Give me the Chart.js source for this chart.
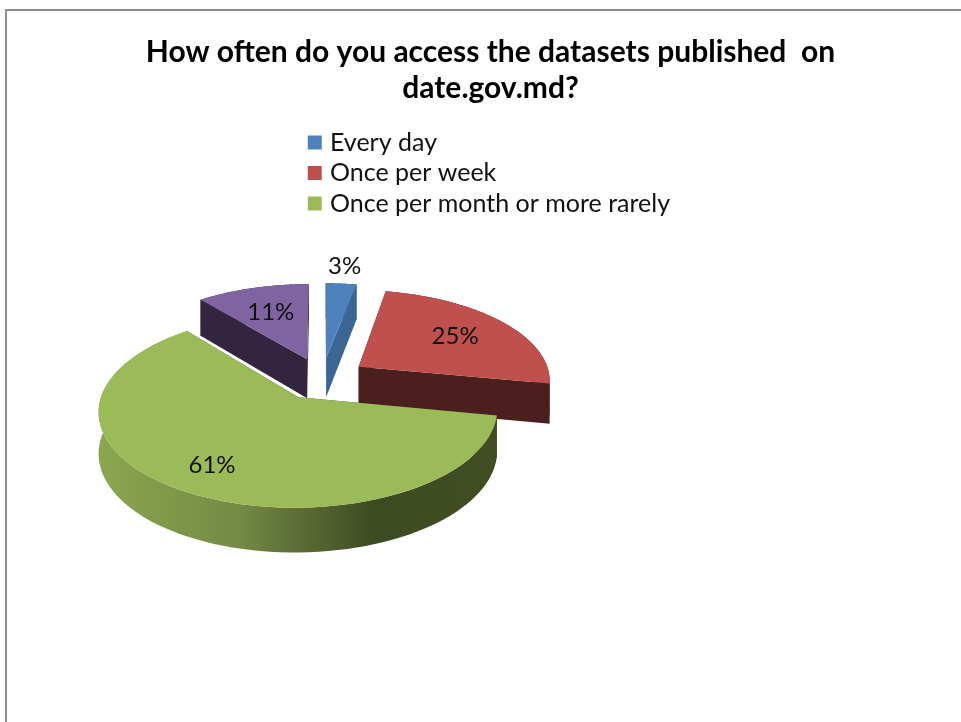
<!DOCTYPE html>
<html>
<head>
<meta charset="utf-8">
<title>Chart</title>
<script src="https://cdn.jsdelivr.net/npm/chart.js@4"></script>
<style>
  html, body { margin: 0; padding: 0; background: #fff; overflow: hidden; }
  #myChart { position: absolute; left: 0; top: 0; filter: blur(0.45px); }
  #frame { position: absolute; left: 5px; top: 9px; right: 0; bottom: 0; border-left: 2.5px solid #909090; border-top: 2.5px solid #8c8c8c; }
</style>
</head>
<body>
<div id="frame"></div>
<canvas id="myChart" width="961" height="722"></canvas>
<script>
const titleLines = ['How often do you access the datasets published  on', 'date.gov.md?'];
const categories = ['Every day', 'Once per week', 'Once per month or more rarely', 'Other'];
const shares = [3, 25, 61, 11];
const topColors = ['#4f81bd', '#c0504d', '#9bbb59', '#8064a2'];
const wallColors = ['#3b6694', '#4b1f1d', '#3f4b23', '#33243f'];
// how far along the slice each label sits, 1 = on the rim
const labelRadii = [1.27, 0.66, 0.76, 0.64];

// fake perspective for the tilted disc
const cx = 322, cy = 378.5, rx = 192, ry = 90, tilt = 0.135;
const explode = 0.235, depth = 40;

function project(u, v) {
    const w = 1 - tilt * v;
    return { x: cx + rx * u / w, y: cy + ry * v / w };
}
function drop(p, v) {
    return { x: p.x, y: p.y + depth * (1 + 0.1 * v) };
}
function tracePoly(ctx, pts) {
    ctx.beginPath();
    pts.forEach((p, i) => i ? ctx.lineTo(p.x, p.y) : ctx.moveTo(p.x, p.y));
    ctx.closePath();
}

// replaces the flat arcs, angles still come from the pie controller
const pie3d = {
    id: 'pie3d',
    afterLayout(chart) {
        // legend sits over the pie, not at the chart edge
        chart.legend.left += 286.5;
        chart.legend.right += 286.5;
    },
    beforeDatasetDraw(chart, args) {
        const ctx = chart.ctx;
        const arcs = args.meta.data;
        const slices = arcs.map((arc, i) => {
            const mid = (arc.startAngle + arc.endAngle) / 2;
            const ou = explode * Math.cos(mid), ov = explode * Math.sin(mid);
            const rim = [];
            for (let s = 0; s <= 90; s++) {
                const a = arc.startAngle + (arc.endAngle - arc.startAngle) * s / 90;
                rim.push({ u: ou + Math.cos(a), v: ov + Math.sin(a) });
            }
            return { i, mid, ou, ov, rim };
        });
        // back to front
        [3, 0, 1, 2].forEach(k => {
            const s = slices[k];
            const top = s.rim.map(r => project(r.u, r.v));
            const low = s.rim.map((r, n) => drop(top[n], r.v));
            const tip = project(s.ou, s.ov);
            const tipLow = drop(tip, s.ov);
            let wall = wallColors[k];
            ctx.fillStyle = wall;
            tracePoly(ctx, [tip, top[0], low[0], tipLow]);
            ctx.fill();
            tracePoly(ctx, [tip, top[90], low[90], tipLow]);
            ctx.fill();
            if (k === 2) {
                wall = ctx.createLinearGradient(100, 0, 497, 0);
                wall.addColorStop(0, '#8ba64f');
                wall.addColorStop(0.35, '#748a45');
                wall.addColorStop(0.69, '#3d4a22');
                wall.addColorStop(1, '#414e24');
            }
            ctx.fillStyle = wall;
            tracePoly(ctx, top.concat(low.slice().reverse()));
            ctx.fill();
            ctx.fillStyle = topColors[k];
            tracePoly(ctx, [tip].concat(top));
            ctx.fill();
        });
        ctx.fillStyle = '#111';
        ctx.font = '24px Lato';
        ctx.textAlign = 'center';
        ctx.textBaseline = 'middle';
        slices.forEach(s => {
            const r = labelRadii[s.i];
            const p = project(s.ou + r * Math.cos(s.mid), s.ov + r * Math.sin(s.mid));
            ctx.fillText(shares[s.i] + '%', p.x, p.y);
        });
        return false;
    }
};

new Chart(document.getElementById('myChart'), {
    type: 'pie',
    data: {
        labels: categories,
        datasets: [{ data: shares, backgroundColor: topColors, borderWidth: 0 }]
    },
    plugins: [pie3d],
    options: {
        responsive: false,
        animation: false,
        layout: { padding: { left: 20, top: 34 } },
        plugins: {
            tooltip: { enabled: false },
            title: {
                display: true,
                text: titleLines,
                color: '#000',
                font: { family: 'Lato', size: 30, weight: 'bold', lineHeight: 1.2 },
                padding: { top: 0, bottom: 18.5 }
            },
            legend: {
                position: 'left',
                align: 'start',
                fullSize: false,
                maxWidth: 420,
                labels: {
                    filter: item => item.index < 3,
                    usePointStyle: true,
                    pointStyle: 'rect',
                    boxWidth: 5.5,
                    boxHeight: 14,
                    padding: 5.5,
                    color: '#111',
                    font: { family: 'Lato', size: 25 }
                }
            }
        }
    }
});
</script>
</body>
</html>
